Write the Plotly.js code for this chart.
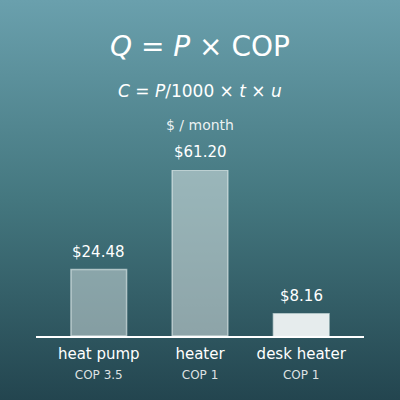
<!DOCTYPE html>
<html>
<head>
<meta charset="utf-8">
<script src="https://cdn.plot.ly/plotly-3.0.1.min.js"></script>
<style>
  html, body { margin: 0; padding: 0; }
  #chart {
    width: 400px; height: 400px;
    background: linear-gradient(to bottom, #6aa0ad 0%, #44777f 50%, #23454f 100%);
  }
</style>
</head>
<body>
<div id="chart"></div>
<script>
const categories = ['heat pump', 'heater', 'desk heater'];
const copLabels = ['COP 3.5', 'COP 1', 'COP 1'];
const monthlyCost = [24.48, 61.20, 8.16];

const fontFamily = 'DejaVu Sans, sans-serif';

// two-line tick labels: name + COP
const tickText = categories.map(function(c, i) {
  return c + '<br><span style="font-size:12px;color:rgba(255,255,255,0.85)">' + copLabels[i] + '</span>';
});

const data = [{
  type: 'bar',
  x: categories,
  y: monthlyCost,
  width: 0.55,
  marker: {
    color: ['rgba(220,230,230,0.5)', 'rgba(220,230,230,0.55)', 'rgba(240,244,244,0.95)'],
    line: { color: 'rgba(230,240,240,0.6)', width: 1.5 },
  },
  hoverinfo: 'skip',
}];

// value labels above bars
const valueNotes = categories.map(function(c, i) {
  return {
    x: c, y: monthlyCost[i], xref: 'x', yref: 'y',
    text: '$' + monthlyCost[i].toFixed(2),
    showarrow: false, yanchor: 'bottom', yshift: 7,
    font: { family: fontFamily, size: 15, color: 'white' },
  };
});

// paper y for a pixel row (plot area spans rows 170..336)
function py(row) { return (336 - row) / 166; }

const layout = {
  width: 400,
  height: 400,
  paper_bgcolor: 'rgba(0,0,0,0)',
  plot_bgcolor: 'rgba(0,0,0,0)',
  margin: { l: 36, r: 36, t: 170, b: 64 },
  showlegend: false,
  font: { family: fontFamily, color: 'white' },
  xaxis: {
    range: [-0.62, 2.62],
    tickvals: categories,
    ticktext: tickText,
    tickfont: { family: fontFamily, size: 15, color: 'white' },
    ticklabelstandoff: 3,
    showline: true, linecolor: 'white', linewidth: 2,
    showgrid: false, zeroline: false, ticks: '',
    fixedrange: true,
  },
  yaxis: {
    range: [0, 61.2],
    visible: false,
    fixedrange: true,
  },
  annotations: valueNotes.concat([
    {
      text: '<i>Q</i> = <i>P</i> × COP',
      xref: 'paper', yref: 'paper', x: 0.5, y: py(47),
      yanchor: 'middle', showarrow: false,
      font: { family: fontFamily, size: 28, color: 'white' },
    },
    {
      text: '<i>C</i> = <i>P</i>/1000 × <i>t</i> × <i>u</i>',
      xref: 'paper', yref: 'paper', x: 0.5, y: py(91),
      yanchor: 'middle', showarrow: false,
      font: { family: fontFamily, size: 17, color: 'white' },
    },
    {
      text: '$ / month',
      xref: 'paper', yref: 'paper', x: 0.5, y: py(125),
      yanchor: 'middle', showarrow: false,
      font: { family: fontFamily, size: 14, color: 'rgba(255,255,255,0.9)' },
    },
  ]),
};

Plotly.newPlot('chart', data, layout, { staticPlot: true, displayModeBar: false });
</script>
</body>
</html>
